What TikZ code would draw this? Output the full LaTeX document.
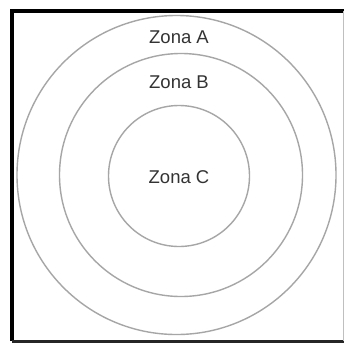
\documentclass[tikz,border=0pt]{standalone}
\usepackage{fontspec}
\setmainfont{Liberation Sans}
\begin{document}
\begin{tikzpicture}[x=1pt,y=-1pt,
  ring/.style={draw=black!35,line width=1.4pt},
  lbl/.style={text=black!80,font=\fontsize{18.5}{22}\selectfont,inner sep=0pt}]
\useasboundingbox (0,0) rectangle (344,343);
\fill[white] (0,0) rectangle (344,343);
% frame
\draw[black,line width=3.5pt] (12,341) -- (12,11) -- (344,11);
\draw[black!85,line width=3pt] (12,341) -- (344,341);
\draw[black!25,line width=1pt] (343.5,11) -- (343.5,341);
% rings
\draw[ring] (176.5,175) circle[radius=159.5];
\draw[ring] (181,175) circle[radius=121.5];
\draw[ring] (179,176) circle[radius=70.5];
\node[lbl] (a) at (179,37) {Zona A};
\node[lbl] (b) at (179,82) {Zona B};
\node[lbl] (c) at (179,177) {Zona C};
\end{tikzpicture}
\end{document}
